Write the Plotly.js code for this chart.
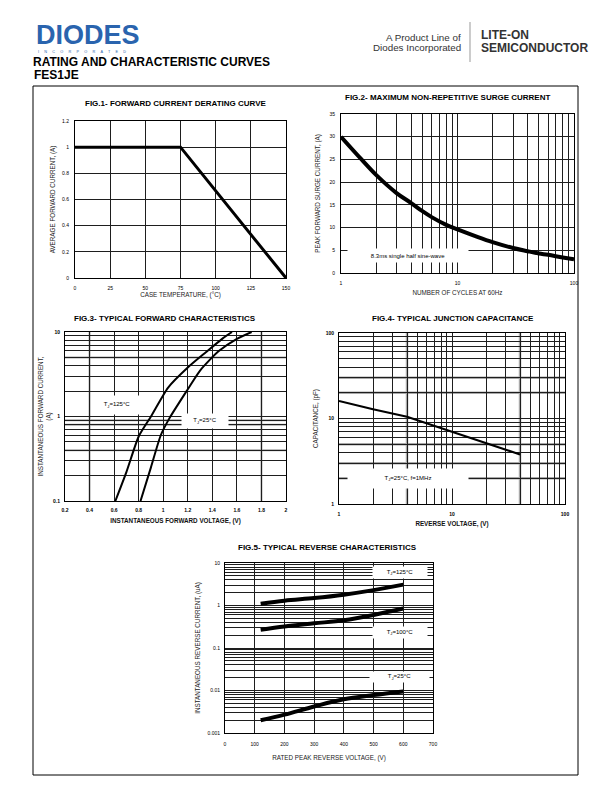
<!DOCTYPE html>
<html><head><meta charset="utf-8">
<script src="https://cdn.plot.ly/plotly-3.0.1.min.js"></script>
<style>html,body{margin:0;padding:0;background:#fff}#chart{width:612px;height:792px}</style>
</head><body><div id="chart"></div>
<script>
// ---------- DATA ----------
// Fig.1 derating
const fig1Temp = [0, 75, 150];
const fig1Current = [1, 1, 0];
const fig1XTicks = [0, 25, 50, 75, 100, 125, 150];
const fig1YTicks = [0, 0.2, 0.4, 0.6, 0.8, 1, 1.2];
// Fig.2 surge
const fig2Cycles = [1, 1.5, 2, 3, 4, 5, 6, 8, 10, 15, 20, 30, 40, 50, 60, 80, 100];
const fig2Surge  = [30, 25, 21.6, 17.6, 15.4, 13.6, 12.3, 10.6, 9.6, 7.9, 6.8, 5.5, 4.8, 4.3, 4.0, 3.4, 3.0];
const fig2XLabels = ['1', '10', '100'];
const fig2YTicks = [0, 5, 10, 15, 20, 25, 30, 35];
// Fig.3 forward characteristics
const fig3V125 = [0.61, 0.70, 0.80, 0.90, 1.04, 1.20, 1.35, 1.48, 1.56];
const fig3I125 = [0.1, 0.22, 0.58, 1.0, 2.2, 3.8, 5.8, 8.3, 10];
const fig3V25  = [0.815, 0.90, 0.98, 1.05, 1.20, 1.30, 1.45, 1.60, 1.72];
const fig3I25  = [0.1, 0.25, 0.6, 0.95, 2.1, 3.5, 5.9, 8.3, 10];
const fig3XTicks = [0.2, 0.4, 0.6, 0.8, 1, 1.2, 1.4, 1.6, 1.8, 2];
const fig3YLabels = ['0.1', '1', '10'];
// Fig.4 junction capacitance
const fig4V = [1, 2, 4, 10, 20, 40];
const fig4C = [16, 12.8, 10.5, 7.0, 5.2, 3.8];
const fig4XLabels = ['1', '10', '100'];
const fig4YLabels = ['1', '10', '100'];
// Fig.5 reverse characteristics
const fig5V = [120, 200, 300, 400, 500, 600];
const fig5I125 = [1.1, 1.3, 1.5, 1.8, 2.3, 3.1];
const fig5I100 = [0.27, 0.32, 0.38, 0.45, 0.6, 0.85];
const fig5I25  = [0.002, 0.0027, 0.0042, 0.0062, 0.0078, 0.0095];
const fig5XTicks = [0, 100, 200, 300, 400, 500, 600, 700];
const fig5YLabels = ['0.001', '0.01', '0.1', '1', '10'];

// ---------- HELPERS ----------
const W = 612, H = 792;
const px = x => x / W, py = y => 1 - y / H;
const F = 'Liberation Sans, Arial, sans-serif';
const FN = 'Liberation Sans Narrow, Arial Narrow, Liberation Sans, Arial, sans-serif';
const GRID = '#1e1e1e';
const GREY = '#a8a8a8';

function minorLog(labels) { // 2..9 multiples between labelled decades
  const decs = labels.map(Number), vals = [];
  for (let i = 0; i < decs.length - 1; i++) for (let k = 2; k <= 9; k++) vals.push(decs[i] * k);
  return vals;
}
const af = {family: F, size: 6.3, color: '#222'};
const afb = {family: F, size: 6.3, color: '#111', weight: 'bold'};
function baseAxis(extra) {
  return Object.assign({
    showline: true, mirror: true, linecolor: '#000', linewidth: 1,
    showgrid: true, gridcolor: GRID, gridwidth: 1, zeroline: false, automargin: false,
    ticks: '', fixedrange: true, tickfont: {family: F, size: 5, color: '#000'}
  }, extra);
}
function logAxis(labels, extra) {
  return baseAxis(Object.assign({
    type: 'log', tickvals: labels.map(Number), ticktext: labels,
    minor: {tickvals: minorLog(labels), showgrid: true, gridcolor: GRID, gridwidth: 1, ticks: ''}
  }, extra));
}
const boldTick = {family: F, size: 5, color: '#000', weight: 'bold'};

const traces = [
  {x: fig1Temp, y: fig1Current, xaxis: 'x', yaxis: 'y', mode: 'lines', line: {color: '#000', width: 3}},
  {x: fig2Cycles, y: fig2Surge, xaxis: 'x2', yaxis: 'y2', mode: 'lines', line: {color: '#000', width: 4, shape: 'spline'}},
  {x: fig3V125, y: fig3I125, xaxis: 'x3', yaxis: 'y3', mode: 'lines', line: {color: '#000', width: 2, shape: 'spline', smoothing: 0.6}},
  {x: fig3V25, y: fig3I25, xaxis: 'x3', yaxis: 'y3', mode: 'lines', line: {color: '#000', width: 2, shape: 'spline', smoothing: 0.6}},
  {x: fig4V, y: fig4C, xaxis: 'x4', yaxis: 'y4', mode: 'lines', line: {color: '#000', width: 2}},
  {x: fig5V, y: fig5I125, xaxis: 'x5', yaxis: 'y5', mode: 'lines', line: {color: '#000', width: 4, shape: 'spline'}},
  {x: fig5V, y: fig5I100, xaxis: 'x5', yaxis: 'y5', mode: 'lines', line: {color: '#000', width: 4, shape: 'spline'}},
  {x: fig5V, y: fig5I25, xaxis: 'x5', yaxis: 'y5', mode: 'lines', line: {color: '#000', width: 4, shape: 'spline'}}
];

// grey highlight gridlines (drawn between grid and data)
const shapes = [];
function vline(xr, yr, x, w) { shapes.push({type: 'line', xref: xr, yref: yr + ' domain', x0: x, x1: x, y0: 0, y1: 1, layer: 'below', line: {color: GREY, width: w || 2}}); }
function hline(xr, yr, y, w) { shapes.push({type: 'line', xref: xr + ' domain', yref: yr, x0: 0, x1: 1, y0: y, y1: y, layer: 'below', line: {color: GREY, width: w || 2}}); }
[0.4, 1.8].forEach(v => vline('x3', 'y3', v, 2));
[5, 0.9, 0.8, 0.4].forEach(v => hline('x3', 'y3', v, 2));
[4, 40].forEach(v => vline('x4', 'y4', v, 2.5));
[2, 3, 5, 20, 30].forEach(v => hline('x4', 'y4', v, 2.5));
// outer frame
shapes.push({type: 'rect', xref: 'paper', yref: 'paper', x0: px(33), x1: px(578), y0: py(775), y1: py(86), line: {color: '#000', width: 1}, layer: 'above'});
// header divider
shapes.push({type: 'line', xref: 'paper', yref: 'paper', x0: px(470), x1: px(470), y0: py(62), y1: py(22), line: {color: '#999', width: 1}});

const ann = [];
function ptext(x, y, text, size, opts) {
  ann.push(Object.assign({xref: 'paper', yref: 'paper', x: px(x), y: py(y), text: text, showarrow: false,
    font: {family: F, size: size, color: '#000'}, xanchor: 'center', yanchor: 'middle'}, opts || {}));
}
// header
ptext(34, 34.5, '<b>DIODES</b>', 27, {xanchor: 'left', font: {family: 'Liberation Sans, Arial', size: 27, color: '#2a64ae'}});
ptext(36, 52, 'I     N     C     O     R     P     O     R     A     T     E     D', 3.8, {xanchor: 'left', font: {family: F, size: 3.8, color: '#2a64ae'}});
ptext(463, 37, 'A Product Line of', 9.8, {xanchor: 'right', font: {family: 'Liberation Sans Narrow, Liberation Sans', size: 9.8, color: '#333'}});
ptext(463, 48, 'Diodes Incorporated', 9.8, {xanchor: 'right', font: {family: 'Liberation Sans Narrow, Liberation Sans', size: 9.8, color: '#333'}});
ptext(479, 35, '<b>LITE-ON</b>', 12, {xanchor: 'left', font: {family: F, size: 12, color: '#333'}});
ptext(479, 48, '<b>SEMICONDUCTOR</b>', 12, {xanchor: 'left', font: {family: F, size: 12, color: '#333'}});
ptext(32, 74.5, '<b>FES1JE</b>', 12, {xanchor: 'left'});
// chart titles
const tf = {family: FN, size: 8, color: '#000', weight: 'bold'};
ptext(176, 103, '<b>FIG.1- FORWARD CURRENT DERATING CURVE</b>', 8, {font: tf});
ptext(447, 97, '<b>FIG.2- MAXIMUM NON-REPETITIVE SURGE CURRENT</b>', 8, {font: tf});
ptext(165, 318, '<b>FIG.3- TYPICAL FORWARD CHARACTERISTICS</b>', 8, {font: tf});
ptext(453, 318, '<b>FIG.4- TYPICAL JUNCTION CAPACITANCE</b>', 8, {font: tf});
ptext(327, 547, '<b>FIG.5- TYPICAL REVERSE CHARACTERISTICS</b>', 8, {font: tf});
// in-plot labels with white boxes
function dlabel(xr, yr, x, y, text, w, h, extra) {
  ann.push(Object.assign({xref: xr, yref: yr, x: x, y: y, text: text, showarrow: false, bgcolor: '#fff',
    width: w, height: h, borderpad: 0, font: {family: F, size: 6, color: '#000'}, xanchor: 'center', yanchor: 'middle'}, extra || {}));
}
dlabel('x2', 'y2', Math.log10(3.76), 3.9, '8.3ms single half sine-wave', 120, 13);
dlabel('x4', 'y4', Math.log10(4.08), Math.log10(2.0), 'T<sub>J</sub>=25°C, f=1MHz', 120, 19);
dlabel('x3', 'y3', 0.62, Math.log10(1.35), 'T<sub>J</sub>=125°C', 46, 18);
dlabel('x3', 'y3', 1.34, Math.log10(0.89), 'T<sub>J</sub>=25°C', 46, 14);
dlabel('x5', 'y5', 588, Math.log10(5.9), 'T<sub>J</sub>=125°C', 54, 11);
dlabel('x5', 'y5', 588, Math.log10(0.227), 'T<sub>J</sub>=100°C', 54, 11);
dlabel('x5', 'y5', 588, Math.log10(0.0213), 'T<sub>J</sub>=25°C', 59, 10);

const layout = {
  width: W, height: H, margin: {l: 0, r: 0, t: 0, b: 0}, paper_bgcolor: '#fff', plot_bgcolor: '#fff',
  showlegend: false, shapes: shapes, annotations: ann,
  title: {text: '<b>RATING AND CHARACTERISTIC CURVES</b>', x: px(33), xanchor: 'left', xref: 'paper',
          y: py(62), yanchor: 'middle', yref: 'container', pad: {l: 0, r: 0, t: 0, b: 0}, font: {family: F, size: 12, color: '#000'}},
  xaxis: baseAxis({domain: [px(75), px(286)], range: [0, 150], tickvals: fig1XTicks, anchor: 'y', ticklabelstandoff: 5,
    title: {text: 'CASE TEMPERATURE, (°C)', font: af, standoff: 2}}),
  yaxis: baseAxis({domain: [py(278), py(121)], range: [0, 1.2], tickvals: fig1YTicks, anchor: 'x', ticklabelstandoff: 4,
    title: {text: 'AVERAGE FORWARD CURRENT, (A)', font: af, standoff: 5}}),
  xaxis2: logAxis(fig2XLabels, {domain: [px(341), px(574)], range: [0, 2], anchor: 'y2', ticklabelstandoff: 5,
    title: {text: 'NUMBER OF CYCLES AT 60Hz', font: af, standoff: 5}}),
  yaxis2: baseAxis({domain: [py(273), py(114)], range: [0, 35], tickvals: fig2YTicks, anchor: 'x2', ticklabelstandoff: 4,
    title: {text: 'PEAK FORWARD SURGE CURRENT, (A)', font: af, standoff: 8}}),
  xaxis3: baseAxis({domain: [px(65), px(286)], range: [0.2, 2], tickvals: fig3XTicks, anchor: 'y3', ticklabelstandoff: 4, tickfont: boldTick,
    title: {text: 'INSTANTANEOUS FORWARD VOLTAGE, (V)', font: afb, standoff: 6}}),
  yaxis3: logAxis(fig3YLabels, {domain: [py(501), py(332)], range: [-1, 1], anchor: 'x3', ticklabelstandoff: 3, tickfont: boldTick,
    title: {text: 'INSTANTANEOUS FORWARD CURRENT,<br>(A)', font: af, standoff: 0}}),
  xaxis4: logAxis(fig4XLabels, {domain: [px(339), px(565)], range: [0, 2], anchor: 'y4', ticklabelstandoff: 5, tickfont: boldTick,
    title: {text: 'REVERSE VOLTAGE, (V)', font: afb, standoff: 5}}),
  yaxis4: logAxis(fig4YLabels, {domain: [py(504), py(333)], range: [0, 2], anchor: 'x4', ticklabelstandoff: 3, tickfont: boldTick,
    title: {text: 'CAPACITANCE, (pF)', font: af, standoff: 6}}),
  xaxis5: baseAxis({domain: [px(225), px(433)], range: [0, 700], tickvals: fig5XTicks, anchor: 'y5', ticklabelstandoff: 6,
    title: {text: 'RATED PEAK REVERSE VOLTAGE, (V)', font: af, standoff: 9}}),
  yaxis5: logAxis(fig5YLabels, {domain: [py(733), py(563)], range: [-3, 1], anchor: 'x5', ticklabelstandoff: 3,
    title: {text: 'INSTANTANEOUS REVERSE CURRENT, (uA)', font: af, standoff: 6}})
};
Plotly.newPlot('chart', traces, layout, {staticPlot: true, displayModeBar: false});
</script></body></html>
